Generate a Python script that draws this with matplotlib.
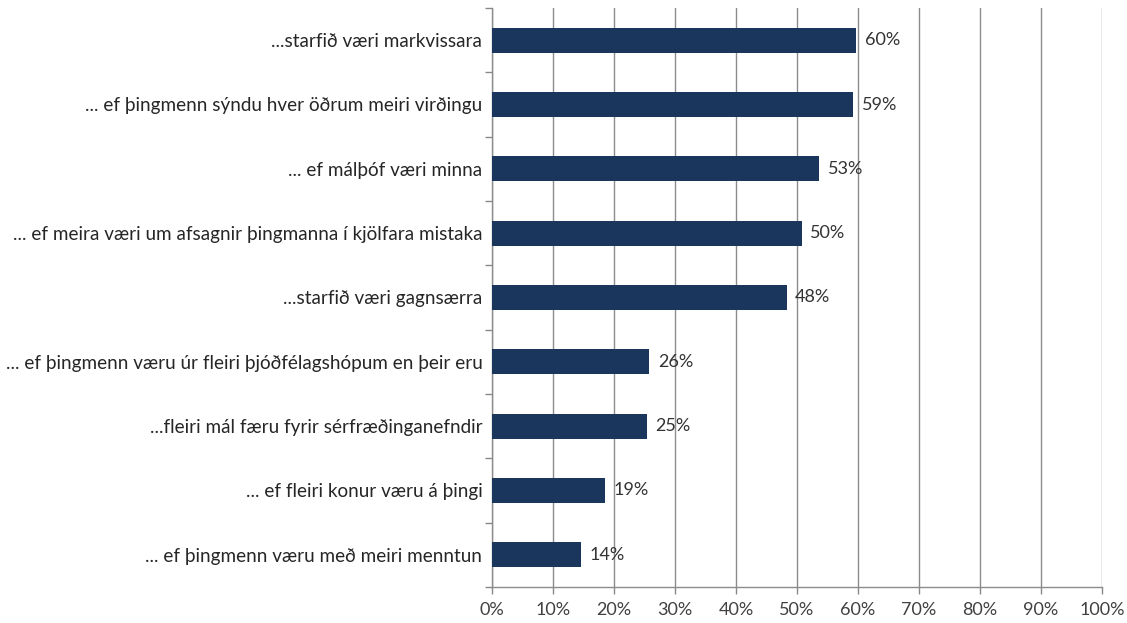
import matplotlib
matplotlib.use("Agg")
import matplotlib.pyplot as plt
import numpy as np

categories = [
    "...starfið væri markvissara",
    "... ef þingmenn sýndu hver öðrum meiri virðingu",
    "... ef málþóf væri minna",
    "... ef meira væri um afsagnir þingmanna í kjölfara mistaka",
    "...starfið væri gagnsærra",
    "... ef þingmenn væru úr fleiri þjóðfélagshópum en þeir eru",
    "...fleiri mál færu fyrir sérfræðinganefndir",
    "... ef fleiri konur væru á þingi",
    "... ef þingmenn væru með meiri menntun",
]
values = [59.7, 59.2, 53.6, 50.8, 48.3, 25.8, 25.4, 18.6, 14.6]
value_labels = ["60%", "59%", "53%", "50%", "48%", "26%", "25%", "19%", "14%"]
xticks = [0, 10, 20, 30, 40, 50, 60, 70, 80, 90, 100]
xtick_labels = ["0%", "10%", "20%", "30%", "40%", "50%", "60%", "70%", "80%", "90%", "100%"]

plt.rcParams['font.family'] = ['Lato', 'DejaVu Sans']

fig = plt.figure(figsize=(11.27, 6.23), dpi=100)
ax = fig.add_axes([492/1127, 1 - 587/623, (1102-492)/1127, (587-8)/623])

n = len(categories)
y = np.arange(n)
bar_color = "#1b365d"
ax.barh(y, values, height=0.39, color=bar_color, zorder=3)
for yi, v, lab in zip(y, values, value_labels):
    ax.text(v + 1.4, yi, lab, va="center", ha="left", fontsize=13, color="#333333")

ax.set_ylim(n - 0.5, -0.5)
ax.set_xlim(0, 100)
ax.set_xticks(xticks)
ax.set_xticklabels(xtick_labels, fontsize=13, color="#404040")
ax.set_yticks(y)
ax.set_yticklabels(categories, fontsize=13.6, color="#262626")
ax.tick_params(axis="y", length=0, pad=7)
ax.set_yticks(np.arange(-0.5, n, 1), minor=True)
ax.tick_params(axis="y", which="minor", length=5, color="#888888", width=1)
ax.tick_params(axis="x", length=5, color="#888888", width=1, pad=6)

ax.grid(axis="x", color="#8c8c8c", linewidth=1, zorder=0)
for s in ["top", "right"]:
    ax.spines[s].set_visible(False)
for s in ["left", "bottom"]:
    ax.spines[s].set_color("#8c8c8c")
    ax.spines[s].set_linewidth(1)

fig.savefig("out.png", dpi=100)
